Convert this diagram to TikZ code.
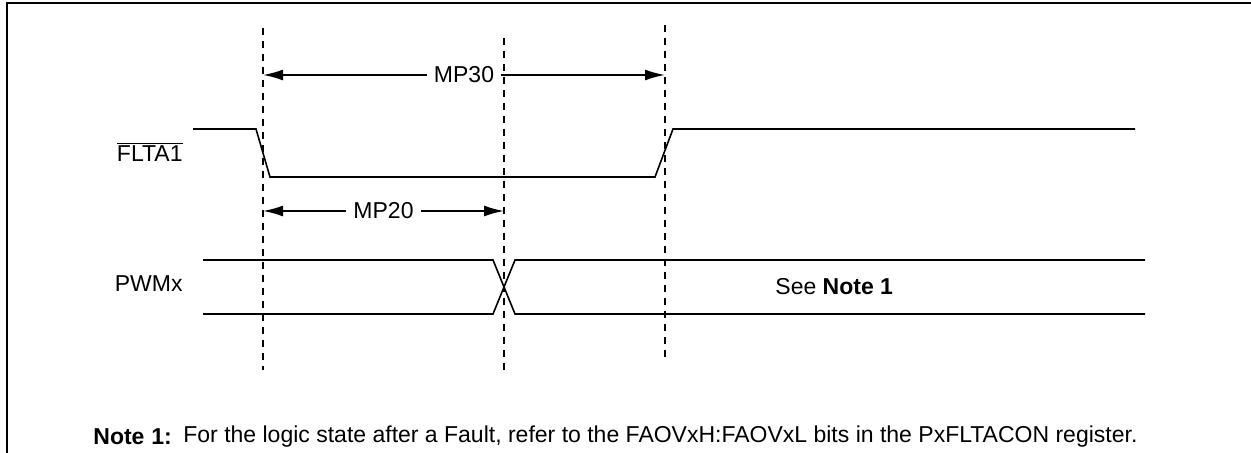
\documentclass[tikz,border=0pt]{standalone}
\usepackage{fontspec}
\setmainfont{Liberation Sans}
\usetikzlibrary{arrows.meta}
\tikzset{
  guide/.style={dash pattern=on 3.5pt off 3pt, line width=1.2pt},
  sig/.style={line width=0.8pt},
  span/.style={{Latex[length=10pt,width=5.5pt]}-{Latex[length=10pt,width=5.5pt]}, line width=0.9pt},
  lbl/.style={inner sep=0pt},
}
\begin{document}
\begin{tikzpicture}[x=0.5pt,y=-0.5pt,font=\fontsize{11.5}{14}\selectfont]
\useasboundingbox (0,0) rectangle (1251,453);
\draw[line width=1pt] (7,453) -- (7,3) -- (1251,3);

% dashed guides
\coordinate (g1t) at (263,28);  \coordinate (g1b) at (263,370);
\coordinate (g2t) at (504,38);  \coordinate (g2b) at (504,370);
\coordinate (g3t) at (665,25);  \coordinate (g3b) at (665,360);
\draw[guide] (g1t) -- (g1b);
\draw[guide] (g2t) -- (g2b);
\draw[guide] (g3t) -- (g3b);

% FLTA1
\node[lbl,anchor=east] at (183,152) (flt) {$\overline{\mbox{FLTA1}}$};
\coordinate (f0) at (193,129);  \coordinate (f1) at (256,129);
\coordinate (f2) at (270,177);  \coordinate (f3) at (655,177);
\coordinate (f4) at (673,129);  \coordinate (f5) at (1135,129);
\draw[sig] (f0) -- (f1) -- (f2) -- (f3) -- (f4) -- (f5);

% timing
\coordinate (m30a) at (263,75);  \coordinate (m30b) at (665,75);
\draw[span] (m30a) -- node[fill=white,inner sep=3.5pt]{MP30} (m30b);
\coordinate (m20a) at (263,211);  \coordinate (m20b) at (504,211);
\draw[span] (m20a) -- node[fill=white,inner sep=3.5pt]{MP20} (m20b);

% PWMx
\node[lbl,anchor=east] at (183,284) (pwm) {PWMx};
\coordinate (p0) at (203,260);  \coordinate (p1) at (493,260);
\coordinate (p2) at (515,314);  \coordinate (p3) at (1145,314);
\coordinate (q0) at (203,314);  \coordinate (q1) at (493,314);
\coordinate (q2) at (515,260);  \coordinate (q3) at (1145,260);
\draw[sig] (p0) -- (p1) -- (p2) -- (p3);
\draw[sig] (q0) -- (q1) -- (q2) -- (q3);
\node[lbl,anchor=west] at (775,287) (see) {See \textbf{Note 1}};

% note
\node[lbl,anchor=west] at (93,437) (nt) {\textbf{Note\hspace{0.3em}1:}};
\node[lbl,anchor=west] at (183,437) (ntx) {For the logic state after a Fault, refer to the FAOVxH:FAOVxL bits in the PxFLTACON register.};
\end{tikzpicture}
\end{document}
